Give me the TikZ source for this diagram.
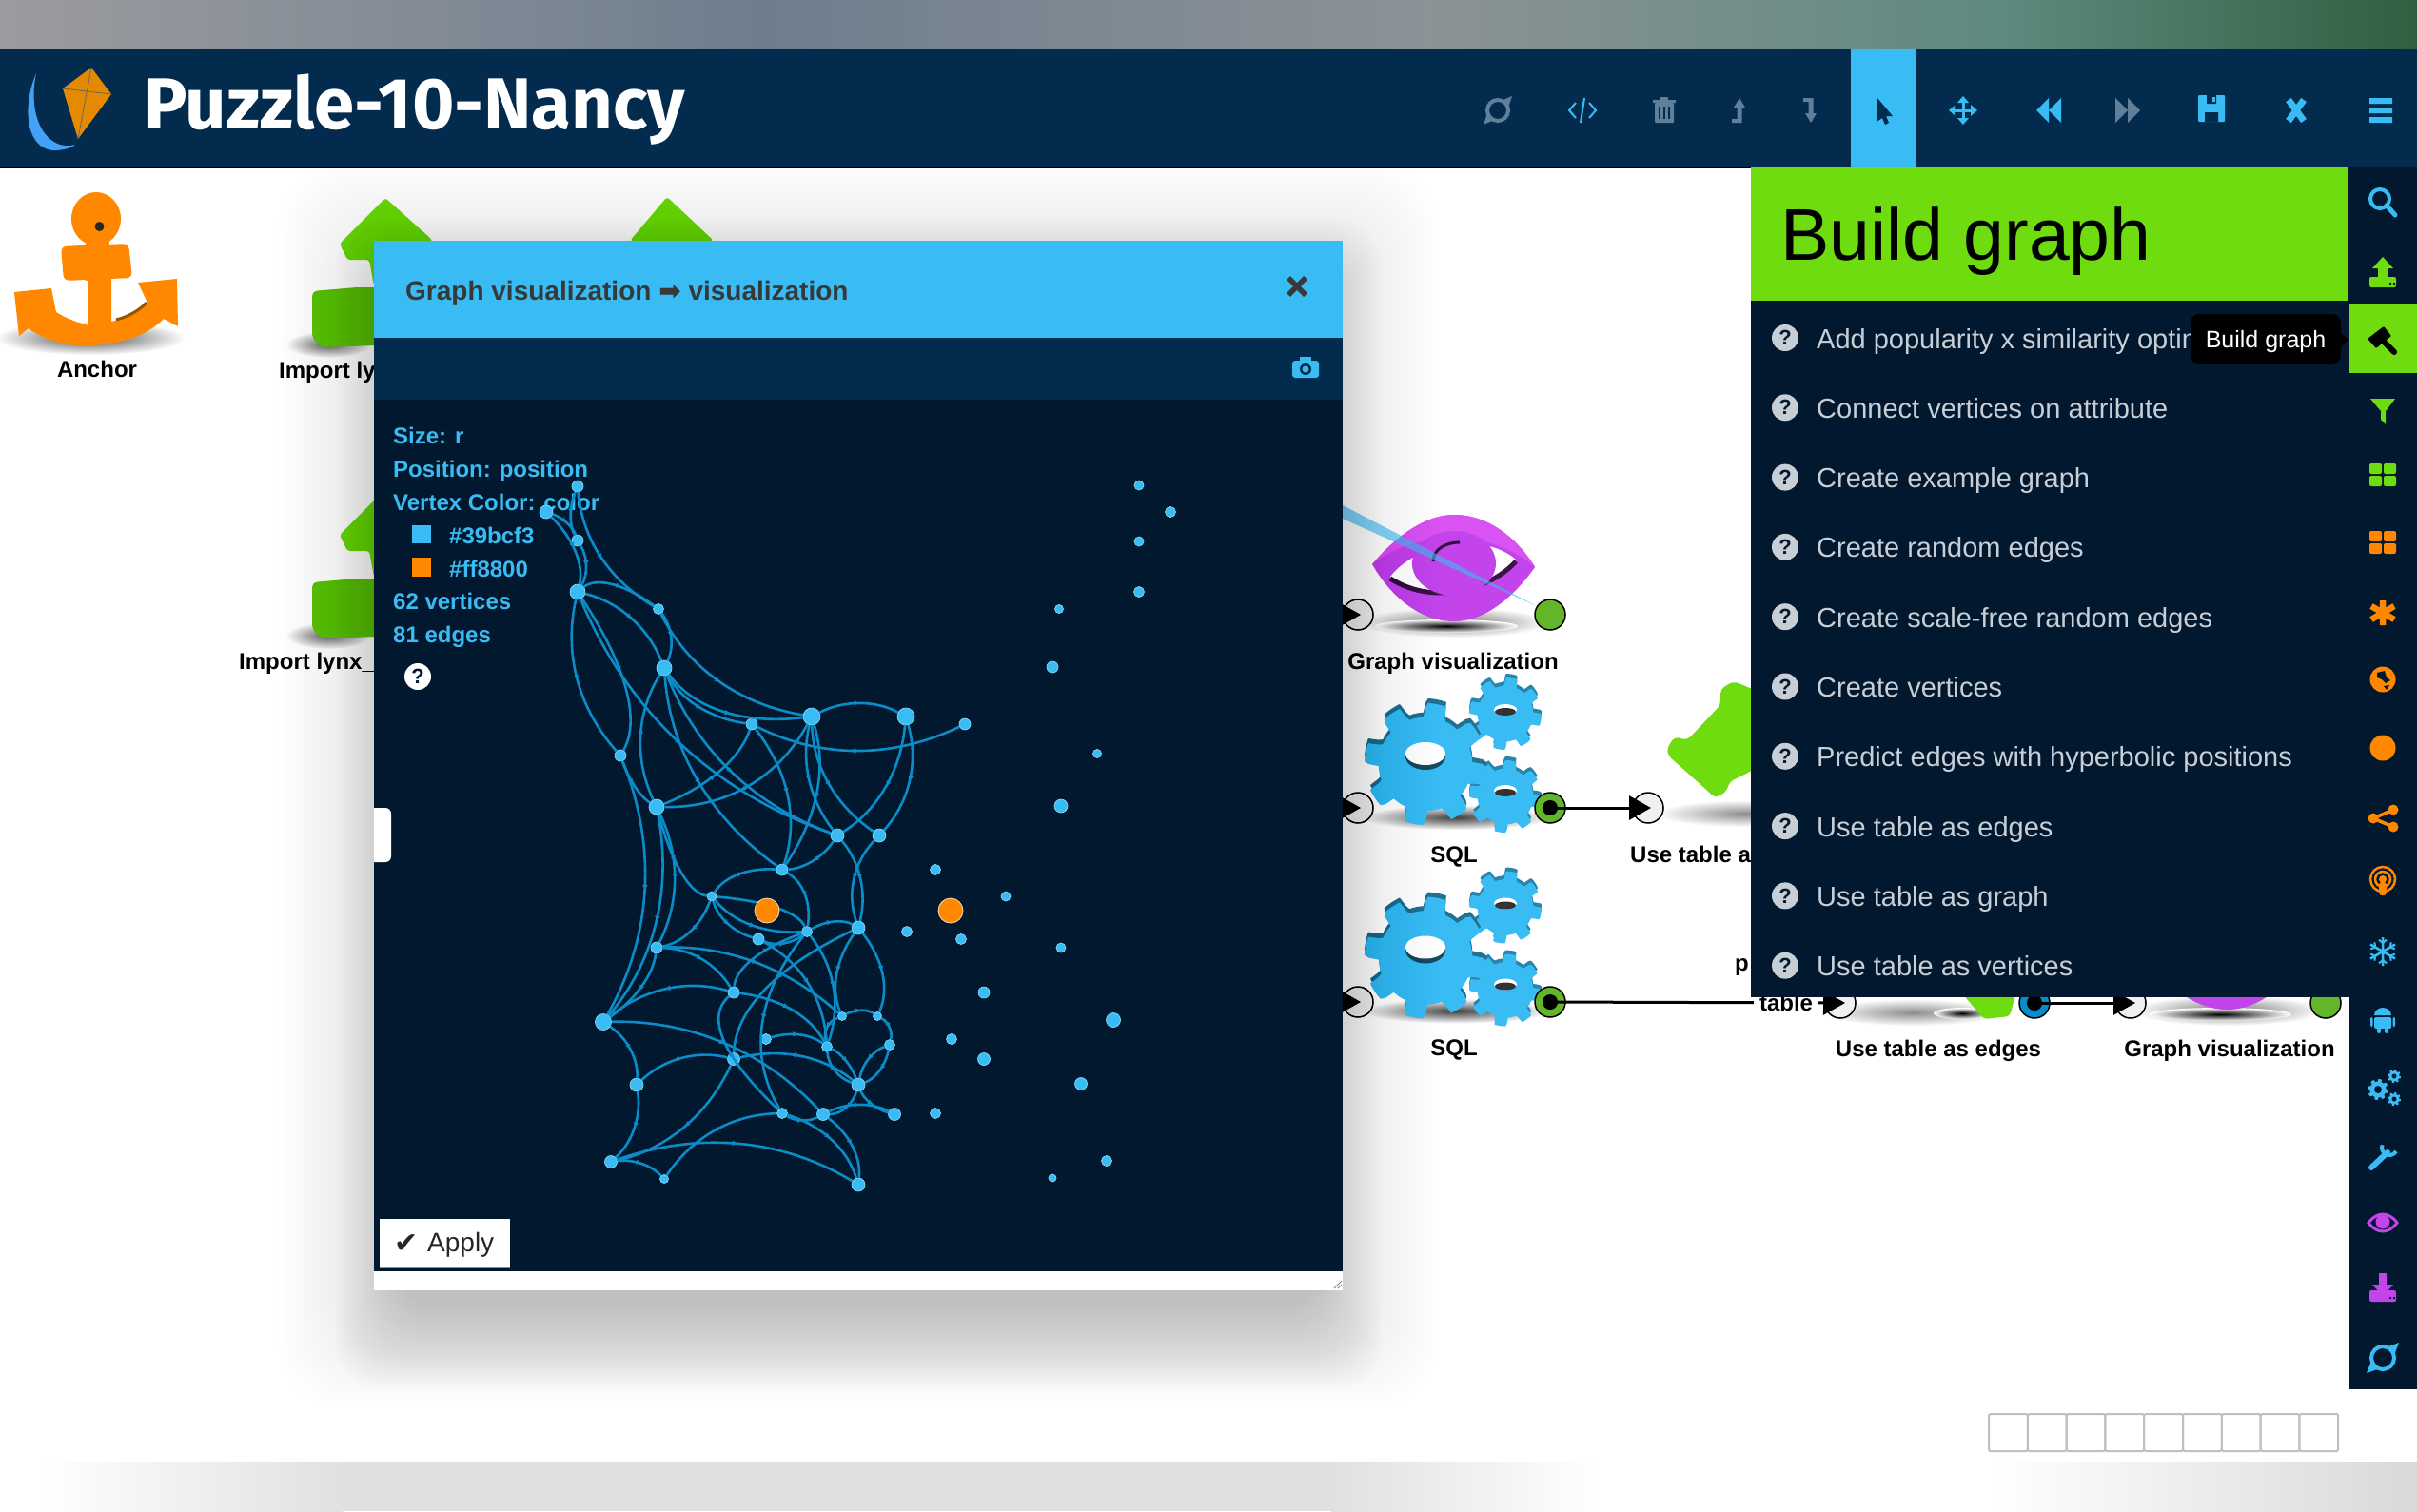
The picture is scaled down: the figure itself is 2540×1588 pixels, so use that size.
\documentclass[tikz,border=0pt]{standalone}
\usepackage{fontspec}
\setmainfont{Liberation Sans}
\newfontfamily\djv{DejaVu Sans}
\newfontfamily\ttl{Fira Sans}
\usetikzlibrary{arrows.meta,calc,decorations.markings}
\definecolor{hdr}{HTML}{022B4D}
\definecolor{deep}{HTML}{02182E}
\definecolor{sky}{HTML}{39BCF3}
\definecolor{edgeblue}{HTML}{0A8CC8}
\definecolor{lime}{HTML}{6FDC10}
\definecolor{limed}{HTML}{5FC40E}
\definecolor{org}{HTML}{FF8800}
\definecolor{purp}{HTML}{C344EA}
\definecolor{mute}{HTML}{5F7F9A}
\definecolor{menu}{HTML}{C8CED6}
\definecolor{ok}{HTML}{63B52A}
\tikzset{
 vx/.style={circle,fill=sky,draw=sky!60!white,line width=.7pt,inner sep=0pt},
 edge/.style={draw=edgeblue,line width=2.6pt,postaction={decorate},decoration={markings,mark=at position .5 with {\arrow{Triangle[length=5pt,width=5pt]}}}},
 lbl/.style={inner sep=0pt,font=\fontsize{24}{28}\selectfont\bfseries,text=black},
 leg/.style={inner sep=0pt,anchor=base west,font=\fontsize{24}{28}\selectfont\bfseries,text=sky},
 mtext/.style={inner sep=0pt,anchor=base west,font=\fontsize{29}{34}\selectfont,text=menu},
 inp/.style={circle,draw=black,fill=black!6,line width=1.5pt,minimum size=32pt,inner sep=0pt},
 outp/.style={circle,draw=black,fill=ok,line width=1.5pt,minimum size=32pt,inner sep=0pt},
 conn/.style={draw=black,line width=3pt,{Circle[length=16pt]}-{Triangle[length=23pt,width=25pt]}},
 qmk/.style={circle,inner sep=0pt,minimum size=28pt,font=\fontsize{22}{22}\selectfont\bfseries}
}
\newcommand\vtx[4]{\node[vx,minimum size=#4pt] (#1) at (#2,#3) {};}
\newcommand\qarc[3]{\coordinate (qq) at ($(#1)!.5!(#2)!2!#3$);\draw[edge] (#1) .. controls ($(#1)!.6667!(qq)$) and ($(#2)!.6667!(qq)$) .. (#2);}
\newcommand\zc[4]{\qarc{#1}{#2}{({400+#3/2.306},{430+#4/3})}}
\newcommand\zd[4]{\qarc{#1}{#2}{({560+#3/3},{880+#4/3})}}
\newcommand\gearshape[3]{\fill[#2] plot[samples=145,domain=0:360] (\x:{#1*(0.77+0.23*min(1,max(0,.5+2.4*sin(8*\x+#3))))}) -- cycle;}
\newcommand\sqlicon[1]{%
 \begin{scope}[shift={(0,#1)}]
 \shade[inner color=black!75,outer color=white] (1530,859) ellipse (100 and 13);
 \begin{scope}[shift={(1582,746)}]\gearshape{38}{sky!70!black}{10}\begin{scope}[yshift=-4pt]\gearshape{38}{sky}{10}\end{scope}\fill[white] (0,0) ellipse (12 and 6);\fill[black!80] (0,2) ellipse (11 and 4);\end{scope}
 \begin{scope}[shift={(1582,833)}]\gearshape{38}{sky!70!black}{25}\begin{scope}[yshift=-4pt]\gearshape{38}{sky}{25}\end{scope}\fill[white] (0,-2) ellipse (12 and 6);\fill[black!80] (0,0) ellipse (11 and 4);\end{scope}
 \begin{scope}[shift={(1498,798)}]\gearshape{64}{sky!60!black}{5}\begin{scope}[yshift=-5pt]\gearshape{64}{sky}{5}\end{scope}\fill[sky!40!black] (0,-3) ellipse (21 and 14);\fill[white] (0,-6) ellipse (21 and 12);\end{scope}
 \end{scope}}
\newcommand\eyeicon[2]{%
 \begin{scope}[shift={(#1,#2)}]
 \shade[inner color=black!55,outer color=white] (0,58) ellipse (100 and 16);
 \shade[inner color=black,outer color=white] (-8,62) ellipse (75 and 7);
 \fill[purp] (-86,-3) .. controls (-50,-45) and (-20,-55) .. (0,-55) .. controls (40,-55) and (70,-25) .. (85,0) .. controls (60,35) and (30,57) .. (0,57) .. controls (-40,57) and (-70,25) .. (-86,-3) -- cycle;
 \fill[purp!75!magenta!85!white] (-86,-3) .. controls (-50,-45) and (-20,-55) .. (0,-55) .. controls (40,-55) and (70,-25) .. (85,0) .. controls (40,-40) and (-40,-40) .. (-86,-3) -- cycle;
 \fill[white] (-67,10) .. controls (-40,-25) and (30,-38) .. (65,-8) .. controls (40,20) and (-20,40) .. (-67,10) -- cycle;
 \draw[black!70!purp,line width=5pt] (-67,12) .. controls (-20,42) and (40,22) .. (65,-6);
 \fill[purp] (0,-4) ellipse (44 and 34);
 \draw[black!75!purp,line width=3pt] (-22,-6) .. controls (-22,-18) and (-10,-26) .. (6,-26);
 \end{scope}}
\newcommand\importicon[1]{%
 \begin{scope}[shift={(0,#1)}]
 \shade[inner color=black!60,outer color=white] (345,362) ellipse (45 and 14);
 \fill[lime,rounded corners=3pt] (405,208) -- (454,252) -- (454,300) -- (393,300) -- (388,273) -- (365,273) -- (357,256) -- cycle;
 \fill[limed,rounded corners=5pt] (328,306) -- (375,302) -- (420,302) -- (420,362) -- (338,365) -- (328,355) -- cycle;
 \end{scope}}
\begin{document}
\begin{tikzpicture}[x=1pt,y=-1pt]
\useasboundingbox (0,0) rectangle (2540,1588);
\fill[white] (0,0) rectangle (2540,1588);
% top strip
\shade[left color={rgb,255:red,155;green,155;blue,159},right color={rgb,255:red,110;green,126;blue,142}] (0,0) rectangle (800,52);
\shade[left color={rgb,255:red,110;green,126;blue,142},right color={rgb,255:red,140;green,146;blue,150}] (799,0) rectangle (1500,52);
\shade[left color={rgb,255:red,140;green,146;blue,150},right color={rgb,255:red,95;green,138;blue,128}] (1499,0) rectangle (2100,52);
\shade[left color={rgb,255:red,95;green,138;blue,128},right color={rgb,255:red,47;green,96;blue,64}] (2099,0) rectangle (2540,52);
% bottom strip
\shade[left color=white,right color=black!12] (40,1536) rectangle (360,1588);
\fill[black!12] (359,1536) rectangle (1400,1588);
\shade[left color=black!12,right color=white] (1399,1536) rectangle (1680,1588);
\shade[left color=white,right color=black!15] (2090,1536) rectangle (2540,1588);
% canvas objects
\shade[inner color=black!70,outer color=white] (95,355) ellipse (100 and 18);
\fill[org] (15,307) -- (54,303) -- (59,328) .. controls (75,338) and (88,340) .. (92,342) -- (92,290) -- (117,290) -- (117,338) .. controls (130,335) and (150,325) .. (155,318) -- (145,297) -- (186,293) -- (187,343) -- (172,335) .. controls (150,358) and (110,365) .. (77,363) .. controls (55,360) and (35,350) .. (30,345) -- (20,353) -- cycle;
\draw[org!60!black,line width=3pt] (122,336) .. controls (135,333) and (148,325) .. (154,318);
\fill[org,rounded corners=6pt] (64,259) -- (135,256) -- (139,292) -- (67,295) -- cycle;
\fill[org] (101,230) ellipse (26 and 28);
\fill[org] (90,250) rectangle (115,295);
\fill[black!85] (104.5,238) ellipse (5 and 5);
\node[lbl] (anchorlbl) at (102,388) {Anchor};
\importicon{0}
\node[lbl,anchor=base west] (imp1) at (293,397) {Import ly};
\fill[lime,rounded corners=3pt] (701,207) -- (750,253) -- (662,253) -- cycle;
\importicon{306}
\node[lbl,anchor=base west] (imp3) at (251,703) {Import lynx\_};
\eyeicon{1528}{596}
\node[lbl,anchor=base] (gv1) at (1527,703) {Graph visualization};
\fill[sky,opacity=.6] (1411,531) -- (1411,545) -- (1615,637) -- cycle;
\sqlicon{0}
\node[lbl,anchor=base] (sql1) at (1528,906) {SQL};
\sqlicon{203.5}
\node[lbl,anchor=base] (sql2) at (1528,1109) {SQL};
\shade[inner color=black!45,outer color=white] (1835,855) ellipse (95 and 14);
\fill[lime,rounded corners=5pt] (1752,786) -- (1760,774) -- (1773,778) -- (1808,741) -- (1808,724) -- (1822,716) -- (1880,740) -- (1880,790) -- (1817,822) -- (1815,831) -- (1803,839) -- (1790,827) -- (1753,794) -- cycle;
\node[lbl,anchor=base west] (ut1) at (1713,906) {Use table a};
\node[lbl,anchor=base west] (p1) at (1823,1020) {p};
\shade[inner color=black!45,outer color=white] (2010,1064) ellipse (95 and 14);
\shade[inner color=black,outer color=white] (2062,1065) ellipse (30 and 6);
\fill[lime,rounded corners=4pt] (2050,1030) -- (2085,1071) -- (2112,1068) -- (2122,1030) -- cycle;
\eyeicon{2341}{1004}
\node[lbl,anchor=base] (ue) at (2037,1110) {Use table as edges};
\node[lbl,anchor=base] (gv2) at (2343,1110) {Graph visualization};
% ports
\node[inp] (g1i) at (1427,646) {};
\node[outp] (g1o) at (1629,646) {};
\node[inp] (s1i) at (1427,849) {};
\node[outp] (s1o) at (1629,849) {};
\node[inp] (s2i) at (1427,1053) {};
\node[outp] (s2o) at (1629,1053) {};
\node[inp] (u1i) at (1732,849) {};
\node[inp] (e1i) at (1934,1054) {};
\node[outp,fill=edgeblue] (e1o) at (2138,1054) {};
\node[inp] (g2i) at (2239,1054) {};
\node[outp] (g2o) at (2444,1054) {};
\coordinate (h1) at (1385,646);
\coordinate (h2) at (1385,849);
\coordinate (h3) at (1385,1053);
\draw[conn] (h1) -- ([xshift=3pt]g1i.center);
\draw[conn] (h2) -- ([xshift=3pt]s1i.center);
\draw[conn] (h3) -- ([xshift=3pt]s2i.center);
\draw[conn] ([xshift=-8pt]s1o.center) -- ([xshift=3pt]u1i.center);
\draw[conn] ([xshift=-8pt]s2o.center) -- ([xshift=5pt]e1i.center);
\draw[conn] ([xshift=-8pt]e1o.center) -- ([xshift=5pt]g2i.center);
\node[lbl,fill=white,inner xsep=6pt,inner ysep=1pt] (tab) at (1877,1054) {table};
% pagination
\foreach \i in {0,...,8}{\draw[black!25,line width=2pt,rounded corners=1.5pt] ({2090+\i*40.8},1486) rectangle ({2130.8+\i*40.8},1525);}
% modal shadow
\foreach \s in {100,96,...,44}{\fill[black,opacity=.0035,rounded corners=70pt] ({393-\s},{253+18-\s}) rectangle ({1411+\s},{1356+24+\s});}
\foreach \s in {40,36,...,-20}{\fill[black,opacity=.011,rounded corners=50pt] ({393-\s},{253+18-\s}) rectangle ({1411+\s},{1356+48+1.4*\s});}
% modal
\fill[white] (393,253) rectangle (1411,1356);
\fill[sky] (393,253) rectangle (1411,355);
\fill[hdr] (393,355) rectangle (1411,420);
\fill[deep] (393,420) rectangle (1411,1336);
\node[inner sep=0pt,anchor=base west,font=\fontsize{28}{32}\selectfont\bfseries,text=black!78] (mtitle) at (426,315) {Graph visualization {\djv ➡} visualization};
\draw[black!78,line width=5.5pt] (1354,292) -- (1372,310) (1372,292) -- (1354,310);
\begin{scope}[shift={(1372,386)}]
\fill[sky,rounded corners=3pt] (-14,-7) rectangle (14,11);
\fill[sky] (-6,-11) rectangle (6,-6);
\fill[hdr] (0,2) circle (6);\fill[sky] (0,2) circle (3.5);
\end{scope}
\fill[white] (393,849) [rounded corners=6pt] -- (411,849) -- (411,906) [sharp corners] -- (393,906) -- cycle;
\node[leg] (l1) at (413,466) {Size: r};
\node[leg] (l2) at (413,501) {Position: position};
\node[leg] (l3) at (413,536) {Vertex Color: color};
\fill[sky] (433,552) rectangle (453,571);
\node[leg] (l4) at (472,571) {\#39bcf3};
\fill[org] (433,586) rectangle (453,606);
\node[leg] (l5) at (472,606) {\#ff8800};
\node[leg] (l6) at (413,640) {62 vertices};
\node[leg] (l7) at (413,675) {81 edges};
\node[qmk,fill=white,text=deep] (lq) at (439,711) {?};
% vertices
\vtx{a1}{607}{511}{12} \vtx{a2}{574}{538}{14} \vtx{a3}{607}{568}{12} \vtx{a4}{607}{622}{16}
\vtx{a5}{692}{640}{11} \vtx{a6}{698}{702}{16} \vtx{a7}{790}{761}{12} \vtx{a8}{853}{753}{18}
\vtx{a9}{952}{753}{18} \vtx{a10}{1014}{761}{12} \vtx{a11}{652}{794}{12} \vtx{a12}{690}{848}{16}
\vtx{a13}{880}{878}{14} \vtx{a14}{924}{878}{14}
\vtx{b1}{822}{914}{12} \vtx{b2}{748}{942}{10} \vtx{b3}{848}{979}{11} \vtx{b4}{902}{975}{14}
\vtx{b5}{797}{987}{12} \vtx{b6}{690}{996}{12} \vtx{b7}{771}{1043}{12} \vtx{b8}{885}{1068}{9}
\vtx{b9}{922}{1068}{9} \vtx{b10}{634}{1074}{17} \vtx{b11}{805}{1092}{11} \vtx{b12}{869}{1100}{11}
\vtx{b13}{935}{1098}{11} \vtx{b14}{771}{1113}{13} \vtx{b15}{902}{1140}{14} \vtx{b16}{669}{1140}{14}
\vtx{b17}{822}{1170}{11} \vtx{b18}{865}{1171}{13} \vtx{b19}{940}{1171}{13} \vtx{b20}{642}{1221}{13}
\vtx{b21}{698}{1239}{9} \vtx{b22}{902}{1245}{14}
\vtx{c1}{983}{914}{11} \vtx{c2}{1057}{942}{10} \vtx{c4}{953}{979}{11} \vtx{c5}{1010}{987}{11}
\vtx{c6}{1034}{1043}{12} \vtx{c7}{1000}{1092}{11} \vtx{c8}{1034}{1113}{13} \vtx{c9}{983}{1170}{11}
\vtx{d1}{1197}{510}{10} \vtx{d2}{1230}{538}{11} \vtx{d3}{1197}{569}{10} \vtx{d4}{1197}{622}{11}
\vtx{d5}{1113}{640}{9} \vtx{d6}{1106}{701}{12} \vtx{d7}{1153}{792}{9} \vtx{d8}{1115}{847}{14}
\vtx{d9}{1115}{996}{10} \vtx{d10}{1170}{1072}{15} \vtx{d11}{1136}{1139}{13} \vtx{d12}{1163}{1220}{11}
\vtx{d13}{1106}{1238}{8}
% edges (zoom-3 frame)
\zc{a1}{a5}{535}{465} \zc{a1}{a3}{462}{335} \zc{a2}{a3}{450}{360} \zc{a2}{a4}{470}{450}
\zc{a3}{a4}{496}{495} \zc{a4}{a5}{560}{555} \zc{a4}{a6}{605}{660} \zc{a5}{a6}{702}{720}
\zc{a5}{a8}{820}{855} \zc{a6}{a8}{830}{950} \zc{a6}{a7}{770}{935} \zc{a7}{a10}{1155}{1075}
\zc{a8}{a9}{1160}{930} \zc{a4}{a11}{478}{850} \zc{a4}{a11}{592}{880} \zc{a4}{a13}{725}{1050}
\zc{a6}{a12}{632}{1030} \zc{a11}{a12}{618}{1190} \zc{a12}{a8}{890}{1185} \zc{a12}{a7}{820}{1140}
\zc{a6}{a13}{850}{1140} \zc{a6}{b1}{770}{1170} \zc{a7}{b1}{985}{1220} \zc{a8}{b1}{1055}{1210}
\zc{a8}{a13}{1040}{1165} \zc{a8}{a14}{1088}{1180} \zc{a9}{a13}{1222}{1190} \zc{a9}{a14}{1280}{1170}
% edges (zoom-4 frame)
\zd{a13}{b1}{882}{72} \zd{a13}{b4}{1030}{130} \zd{a14}{b4}{1015}{130} \zd{a11}{b10}{350}{170}
\zd{a12}{b10}{385}{270} \zd{a12}{b6}{445}{130} \zd{a12}{b2}{470}{110} \zd{b2}{b1}{650}{118}
\zd{b1}{b3}{855}{180} \zd{b2}{b3}{690}{275} \zd{b2}{b3}{770}{225} \zd{b2}{b5}{615}{270}
\zd{b2}{b6}{495}{295} \zd{b6}{b10}{340}{470} \zd{b6}{b7}{530}{385} \zd{b6}{b8}{700}{395}
\zd{b5}{b3}{790}{332} \zd{b5}{b12}{865}{460} \zd{b3}{b4}{950}{268} \zd{b3}{b12}{945}{470}
\zd{b3}{b7}{695}{385} \zd{b3}{b17}{725}{590} \zd{b4}{b14}{735}{480} \zd{b4}{b8}{960}{430}
\zd{b4}{b9}{1100}{430} \zd{b8}{b9}{1035}{547} \zd{b9}{b13}{1122}{600} \zd{b8}{b12}{930}{600}
\zd{b7}{b10}{420}{480} \zd{b7}{b12}{815}{545} \zd{b7}{b17}{605}{640} \zd{b11}{b12}{840}{624}
\zd{b10}{b18}{600}{650} \zd{b10}{b16}{305}{670} \zd{b16}{b14}{470}{698} \zd{b16}{b20}{318}{915}
\zd{b14}{b15}{845}{692} \zd{b14}{b20}{475}{912} \zd{b12}{b15}{985}{705} \zd{b12}{b15}{955}{735}
\zd{b13}{b15}{1060}{700} \zd{b13}{b15}{1090}{735} \zd{b15}{b19}{1068}{838} \zd{b15}{b18}{985}{850}
\zd{b18}{b19}{1030}{845} \zd{b17}{b18}{850}{890} \zd{b17}{b21}{575}{925} \zd{b17}{b22}{940}{955}
\zd{b18}{b22}{1005}{975} \zd{b20}{b22}{650}{968} \zd{b20}{b21}{340}{1030}
\node[circle,fill=org,draw=white!70!org,line width=.8pt,minimum size=26pt,inner sep=0pt] (o1) at (806,957) {};
\node[circle,fill=org,draw=white!70!org,line width=.8pt,minimum size=26pt,inner sep=0pt] (c3) at (999,957) {};
% apply
\fill[white] (399,1281) rectangle (536,1332);
\draw[black!45,line width=1pt] (399,1332) -- (536,1332);
\node[inner sep=0pt,anchor=base,font=\djv\fontsize{30}{30}\selectfont,text=black!85] (chk) at (427,1316) {✔};
\node[inner sep=0pt,anchor=base west,font=\fontsize{28}{32}\selectfont,text=black!85] (apply) at (449,1315) {Apply};
\draw[black!50,line width=1pt] (1402,1354) -- (1410,1346) (1406,1354) -- (1410,1350);
% header
\fill[hdr] (0,52) rectangle (2540,176);
\draw[black,line width=1.5pt] (0,176.5) -- (1840,176.5);
\fill[sky!80!blue!90!white] (38,77) .. controls (22,115) and (28,160) .. (60,158) .. controls (70,157) and (76,155) .. (79,152) .. controls (50,160) and (28,125) .. (38,77) -- cycle;
\fill[org!85!yellow!90!black] (96,71) -- (117,99) -- (82,146) -- (66,93) -- cycle;
\draw[black!60,line width=.8pt] (96,71) -- (82,146) (66,93) -- (117,99);
\node[inner sep=0pt,anchor=base west,font=\ttl\fontsize{76}{80}\selectfont\bfseries,text=white] (title) at (151,135) {Puzzle-10-Nancy};
\fill[sky] (1945,52) rectangle (2014,175);
% toolbar icons
\begin{scope}[shift={(1574,116)}]\draw[mute,line width=4pt] (0,0) circle (11);\fill[mute] (6,-11) -- (15,-15) -- (11,-3) -- cycle (-6,11) -- (-15,15) -- (-11,3) -- cycle;\end{scope}
\begin{scope}[shift={(1663,116)},line width=2pt,sky]\draw[sky] (-7,-8) -- (-14,0) -- (-7,8) (7,-8) -- (14,0) -- (7,8) (2,-13) -- (-2,13);\end{scope}
\begin{scope}[shift={(1749,116)}]\fill[mute,rounded corners=1pt] (-10,-8) rectangle (10,13);\fill[mute] (-12,-11) rectangle (12,-8) (-4,-14) rectangle (4,-11);\draw[hdr,line width=1.5pt] (-5,-4) -- (-5,9) (0,-4) -- (0,9) (5,-4) -- (5,9);\end{scope}
\begin{scope}[shift={(1828,116)}]\fill[mute] (0,-13) -- (6,-3) -- (2.5,-3) -- (2.5,13) -- (-8,13) -- (-8,9) -- (-2.5,9) -- (-2.5,-3) -- (-6,-3) -- cycle;\end{scope}
\begin{scope}[shift={(1903,116)}]\fill[mute] (0,13) -- (6,3) -- (2.5,3) -- (2.5,-13) -- (-8,-13) -- (-8,-9) -- (-2.5,-9) -- (-2.5,3) -- (-6,3) -- cycle;\end{scope}
\begin{scope}[shift={(1979,116)}]\fill[hdr] (-7,-14) -- (10,6) -- (3,6) -- (6,13) -- (2,15) -- (-1,8) -- (-7,12) -- cycle;\end{scope}
\begin{scope}[shift={(2063,116)}]\draw[sky,line width=3pt] (-11,0) -- (11,0) (0,-11) -- (0,11);\fill[sky] (-15,0) -- (-8,-6) -- (-8,6) -- cycle (15,0) -- (8,-6) -- (8,6) -- cycle (0,-15) -- (-6,-8) -- (6,-8) -- cycle (0,15) -- (-6,8) -- (6,8) -- cycle;\end{scope}
\begin{scope}[shift={(2153,116)}]\fill[sky] (-13,0) -- (0,-13) -- (0,13) -- cycle (0,0) -- (13,-13) -- (13,13) -- cycle;\end{scope}
\begin{scope}[shift={(2236,116)}]\fill[mute] (13,0) -- (0,-13) -- (0,13) -- cycle (0,0) -- (-13,-13) -- (-13,13) -- cycle;\end{scope}
\begin{scope}[shift={(2324,114)}]\fill[sky,rounded corners=1pt] (-14,-14) rectangle (14,14);\fill[hdr] (-5,-14) rectangle (5,-5) (-7,4) rectangle (7,14);\fill[sky] (1,-12) rectangle (4,-7);\end{scope}
\draw[sky,line width=7pt] (2405,105) -- (2421,127) (2421,105) -- (2405,127);
\fill[sky] (2490,103) rectangle (2514,109) (2490,113) rectangle (2514,119) (2490,123) rectangle (2514,129);
% side panel
\fill[deep] (1840,176) rectangle (2540,1048);
\fill[deep] (2469,176) rectangle (2540,1460);
\fill[lime] (1840,175) rectangle (2468,316);
\node[inner sep=0pt,anchor=base west,font=\fontsize{77}{80}\selectfont,text=black] (bg) at (1871,273) {Build graph};
\foreach \n/\t [count=\i from 0] in {0/Add popularity x similarity optim,1/Connect vertices on attribute,2/Create example graph,3/Create random edges,4/Create scale-free random edges,5/Create vertices,6/Predict edges with hyperbolic positions,7/Use table as edges,8/Use table as graph,9/Use table as vertices}{
 \node[mtext] (m\n) at (1909,{366+73.3*\i}) {\t};
 \node[qmk,fill=menu,text=deep] (q\n) at (1876,{355+73.3*\i}) {?};
}
\fill[lime] (2469,320) rectangle (2540,392);
\fill[black,rounded corners=9pt] (2302,330) rectangle (2460,383);
\fill[black] (2460,350) -- (2468,357) -- (2460,364) -- cycle;
\node[inner sep=0pt,anchor=base,font=\fontsize{25}{28}\selectfont,text=white] (tip) at (2381,365) {Build graph};
% sidebar icons
\begin{scope}[shift={(2504,212)}]\draw[sky,line width=4pt] (-3,-3) circle (10);\draw[sky,line width=5pt,line cap=round] (4,4) -- (13,14);\end{scope}
\begin{scope}[shift={(2504,287)}]\fill[lime,rounded corners=2pt] (-14,4) rectangle (14,15);\fill[lime] (0,-17) -- (-11,-5) -- (-5,-5) -- (-5,8) -- (5,8) -- (5,-5) -- (11,-5) -- cycle;\fill[deep] (7,10) rectangle (9,12) (11,10) rectangle (13,12);\end{scope}
\begin{scope}[shift={(2504,357)}]\fill[black,rounded corners=1pt] (-16,-1) -- (1,-14) -- (9,-4) -- (-7,9) -- cycle;\draw[black,line width=6pt,line cap=round] (2,3) -- (12,13);\end{scope}
\begin{scope}[shift={(2504,431)}]\fill[lime] (-13,-12) -- (13,-12) -- (3,1) -- (3,15) -- (-2,10) -- (-2,1) -- cycle;\end{scope}
\foreach \yy/\cc in {499/lime,570/org}{
 \begin{scope}[shift={(2504,\yy)}]\fill[\cc,rounded corners=2pt] (-14,-12) rectangle (-1,-1) (1,-12) rectangle (14,-1) (-14,1) rectangle (-1,12) (1,1) rectangle (14,12);\end{scope}}
\begin{scope}[shift={(2504,644)}]\draw[org,line width=6.5pt] (0,-13) -- (0,13) (-12,-7) -- (12,7) (-12,7) -- (12,-7);\end{scope}
\begin{scope}[shift={(2504,714)}]\fill[org] (0,0) circle (13.5);\fill[deep] (-6,-7) -- (2,-9) -- (4,-2) -- (8,1) -- (3,4) -- (-1,0) -- (-6,-2) -- cycle (1,7) -- (7,6) -- (4,11) -- cycle;\end{scope}
\fill[org] (2504,786) circle (13.5);
\begin{scope}[shift={(2504,860)}]\draw[org,line width=3.5pt] (11,-9) -- (-10,0) -- (11,9);\fill[org] (11,-9) circle (5.5) (-10,0) circle (5.5) (11,9) circle (5.5);\end{scope}
\begin{scope}[shift={(2504,927)}]\draw[org,line width=2.5pt] (0,-3) circle (13) (0,-3) circle (8);\fill[org] (0,-3) circle (4);\fill[org,rounded corners=3pt] (-4,0) rectangle (4,14);\end{scope}
\begin{scope}[shift={(2504,1000)}]\draw[sky,line width=2.5pt] (0,-15) -- (0,15) (-13,-7.5) -- (13,7.5) (-13,7.5) -- (13,-7.5);
\foreach \a in {30,90,...,330}{\draw[sky,line width=2pt] (\a-18:13) -- (\a:9) -- (\a+18:13);}\end{scope}
\begin{scope}[shift={(2504,1071)}]\fill[sky] (-9,-4) arc (180:360:9 and 8) -- cycle;\fill[sky,rounded corners=1.5pt] (-9,-2) rectangle (9,10);\fill[sky,rounded corners=2pt] (-13,-2) rectangle (-10.5,8) (10.5,-2) rectangle (13,8) (-6,9) rectangle (-2,15) (2,9) rectangle (6,15);\end{scope}
\begin{scope}[shift={(2499,1145)}]\gearshape{11}{sky}{0}\fill[deep] (0,0) circle (4);\end{scope}
\begin{scope}[shift={(2516,1131)}]\gearshape{7}{sky}{0}\fill[deep] (0,0) circle (2.5);\end{scope}
\begin{scope}[shift={(2516,1155)}]\gearshape{7}{sky}{0}\fill[deep] (0,0) circle (2.5);\end{scope}
\begin{scope}[shift={(2504,1214)}]\draw[sky,line width=6pt,line cap=round] (-12,13) -- (5,-3);\draw[sky,line width=4pt] (14,-4) arc (30:200:8);\end{scope}
\begin{scope}[shift={(2504,1285)}]\draw[purp,line width=3pt] (-15,0) .. controls (-6,-12) and (6,-12) .. (15,0) .. controls (6,12) and (-6,12) .. (-15,0) -- cycle;\fill[purp] (0,-1) circle (7.5);\end{scope}
\begin{scope}[shift={(2504,1354)}]\fill[purp,rounded corners=2pt] (-14,2) rectangle (14,14);\fill[purp] (0,8) -- (-11,-4) -- (-4,-4) -- (-4,-16) -- (4,-16) -- (4,-4) -- (11,-4) -- cycle;\fill[deep] (7,9) rectangle (9,11) (11,9) rectangle (13,11);\end{scope}
\begin{scope}[shift={(2504,1427)}]\draw[sky,line width=4pt] (0,0) circle (12);\fill[sky] (6,-12) -- (17,-16) -- (12,-3) -- cycle (-6,12) -- (-17,16) -- (-12,3) -- cycle;\end{scope}
\end{tikzpicture}
\end{document}
